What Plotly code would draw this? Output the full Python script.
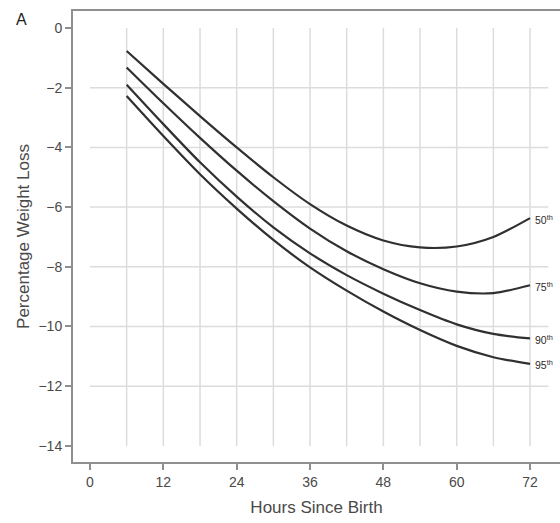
import plotly.graph_objects as go

hours = [6, 12, 18, 24, 30, 36, 42, 48, 54, 60, 66, 72]
p50 = [-0.77, -1.87, -2.95, -4.0, -5.0, -5.9, -6.62, -7.12, -7.35, -7.32, -7.0, -6.37]
p75 = [-1.32, -2.52, -3.68, -4.78, -5.8, -6.72, -7.48, -8.08, -8.55, -8.83, -8.88, -8.62]
p90 = [-1.9, -3.22, -4.5, -5.65, -6.68, -7.55, -8.28, -8.9, -9.45, -9.93, -10.25, -10.4]
p95 = [-2.28, -3.62, -4.9, -6.05, -7.1, -8.02, -8.8, -9.5, -10.12, -10.65, -11.03, -11.25]
series = [("50", p50), ("75", p75), ("90", p90), ("95", p95)]

x_ticks = [0, 12, 24, 36, 48, 60, 72]
y_ticks = [0, -2, -4, -6, -8, -10, -12, -14]
v_grid = [6, 12, 18, 24, 30, 36, 42, 48, 54, 60, 66, 72]
h_grid = [-2, -4, -6, -8, -10, -12]

FONT = "Liberation Sans, Arial, sans-serif"
GRID = "#dcdcdc"
AX = "#8f8f8f"
TXT = "#4a4a4a"

W, H = 560, 523
ML, MT, MB = 73, 11, 61

fig = go.Figure()

shapes = []
for gx in v_grid:
    shapes.append(dict(type="line", xref="x", yref="y", x0=gx, x1=gx, y0=0, y1=-14,
                       line=dict(color=GRID, width=1.5), layer="below"))
for gy in h_grid:
    shapes.append(dict(type="line", xref="x", yref="y", x0=0, x1=75, y0=gy, y1=gy,
                       line=dict(color=GRID, width=1.5), layer="below"))

annotations = []
for name, vals in series:
    fig.add_trace(go.Scatter(x=hours, y=vals, mode="lines",
                             line=dict(color="#303030", width=2.2, shape="spline", smoothing=0.8),
                             showlegend=False, hoverinfo="skip"))
    annotations.append(dict(x=hours[-1], y=vals[-1], xref="x", yref="y", text=f"{name}<sup>th</sup>",
                            showarrow=False, xanchor="left", yanchor="middle", xshift=3, yshift=-1,
                            font=dict(family=FONT, size=10.5, color="#2b2b2b")))

plot_w = W - ML
plot_h = H - MT - MB
annotations.append(dict(x=(21 - ML) / plot_w, y=1 - (20 - MT) / plot_h, xref="paper", yref="paper",
                        text="A", showarrow=False, xanchor="center", yanchor="middle",
                        font=dict(family=FONT, size=16, color="#222222")))

fig.update_layout(
    width=W, height=H,
    margin=dict(l=ML, r=0, t=MT, b=MB, autoexpand=False),
    paper_bgcolor="white", plot_bgcolor="white",
    shapes=shapes, annotations=annotations,
    font=dict(family=FONT, color=TXT),
)
fig.update_xaxes(
    range=[-2.78, 76.9], tickvals=x_ticks, ticktext=[str(v) for v in x_ticks],
    showgrid=False, zeroline=False, showline=True, linecolor=AX, linewidth=2, mirror=True,
    ticks="outside", ticklen=6, tickwidth=1.5, tickcolor=AX,
    tickfont=dict(family=FONT, size=14, color=TXT),
    title=dict(text="Hours Since Birth", font=dict(family=FONT, size=17, color=TXT), standoff=12),
)
fig.update_yaxes(
    range=[-14.54, 0.57], tickvals=y_ticks,
    showgrid=False, zeroline=False, showline=True, linecolor=AX, linewidth=2,
    ticks="outside", ticklen=6, tickwidth=1.5, tickcolor=AX,
    tickfont=dict(family=FONT, size=14, color=TXT),
    title=dict(text="Percentage Weight Loss", font=dict(family=FONT, size=17, color=TXT), standoff=5),
)

fig.write_html("out.html", config={"displayModeBar": False},
               post_script="document.body.style.margin='0';document.body.style.overflow='hidden';")
